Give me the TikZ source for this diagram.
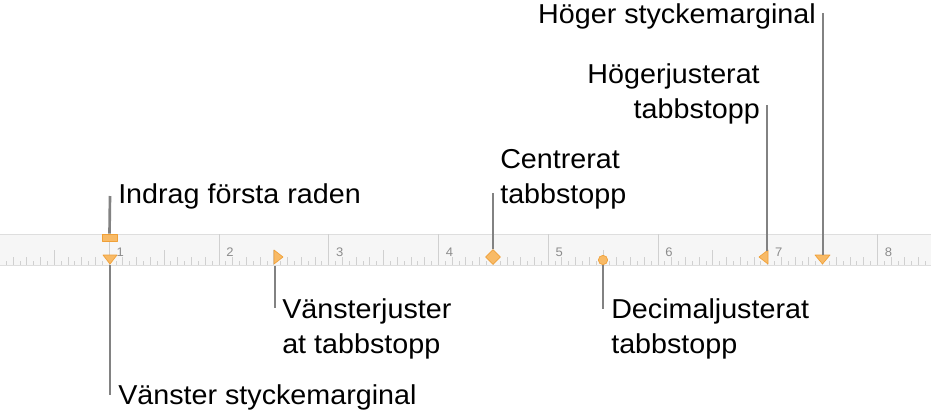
\documentclass[tikz,border=0pt]{standalone}
\usepackage{fontspec}
\setmainfont[FakeStretch=1.05]{Liberation Sans}
\usetikzlibrary{shapes.geometric, calc}
\definecolor{tabfill}{RGB}{248,186,102}
\definecolor{tabedge}{RGB}{240,160,55}
\definecolor{rulerbg}{RGB}{246,246,246}
\definecolor{rulerline}{RGB}{222,222,222}
\definecolor{tickgray}{RGB}{208,208,208}
\definecolor{leadgray}{RGB}{130,130,130}
\definecolor{numgray}{RGB}{140,140,140}

\begin{document}
\begin{tikzpicture}[x=0.75pt, y=-0.75pt,
    tabmark/.style={fill=tabfill, draw=tabedge, line width=0.5pt, line join=round},
    leader/.style={draw=leadgray, line width=2pt},
    callout/.style={font=\fontsize{20.5}{26.3}\selectfont, inner sep=0pt},
    rulernum/.style={font=\fontsize{9.3}{10}\selectfont, text=numgray, inner sep=0pt}]
  \useasboundingbox (0,0) rectangle (931,418);

  % Ruler strip
  \fill[rulerbg] (0,234) rectangle (931,265);
  \draw[rulerline, line width=0.75pt] (0,234) -- (931,234) (0,265) -- (931,265);

  % Ticks, sixteen to the inch
  \foreach \i in {1,...,135} {
    \pgfmathsetmacro{\tx}{\i*109.75/16 - 0.5}
    \pgfmathsetmacro{\ty}{ifthenelse(mod(\i,16)==0, 234,
      ifthenelse(mod(\i,8)==0, 250, ifthenelse(mod(\i,2)==0, 257, 261)))}
    \draw[tickgray, line width=0.75pt] (\tx,\ty) -- (\tx,265);
  }
  \foreach \n in {1,...,8}
    \node[rulernum, anchor=base west] (num\n) at ({\n*109.75 + 6.5}, 256) {\n};

  % Markers on the ruler
  \node[tabmark, rectangle, minimum width=11pt, minimum height=5.25pt,
        inner sep=0pt] (indent) at (109.5,237.5) {};
  \filldraw[tabmark] (103,255) -- (117,255) -- (110,264) -- cycle;
  \coordinate (lmarg) at (110,264.5);
  \filldraw[tabmark] (274,250) -- (283,257) -- (274,264) -- cycle;
  \coordinate (ltab) at (275,265.5);
  \node[tabmark, diamond, minimum size=11.25pt, inner sep=0pt] (ctab) at (493,257) {};
  \node[tabmark, circle, minimum size=7pt, inner sep=0pt] (dtab) at (603,260) {};
  \filldraw[tabmark] (768,250) -- (759,257) -- (768,264) -- cycle;
  \coordinate (rtab) at (767,250.5);
  \filldraw[tabmark] (815,255) -- (830,255) -- (822.5,264) -- cycle;
  \coordinate (rmarg) at (823,255);

  % Callout texts
  \node[callout, anchor=base west] (lblIndent) at (118,203) {Indrag första raden};
  \node[callout, anchor=base west] (lblLmarg) at (118,404) {Vänster styckemarginal};
  \node[callout, anchor=north west, align=left] (lblLtab) at (282,298)
    {Vänsterjuster\\at tabbstopp};
  \node[callout, anchor=north west, align=left] (lblCtab) at (500,149)
    {Centrerat\\tabbstopp};
  \node[callout, anchor=north west, align=left] (lblDtab) at (611,298)
    {Decimaljusterat\\tabbstopp};
  \node[callout, anchor=north east, align=right] (lblRtab) at (760,63)
    {Högerjusterat\\tabbstopp};
  \node[callout, anchor=base east] (lblRmarg) at (816,23) {Höger styckemarginal};

  % Leader ends
  \coordinate (indentEnd) at (110,196);
  \coordinate (lmargEnd) at (110,395);
  \coordinate (ltabEnd) at (275,308);
  \coordinate (ctabEnd) at (493,193);
  \coordinate (dtabEnd) at (603,309);
  \coordinate (rtabEnd) at (767,105);
  \coordinate (rmargEnd) at (823,13);

  % Leaders
  \draw[leader] (indent.north) -- (indentEnd);
  \draw[leader] (lmarg) -- (lmargEnd);
  \draw[leader] (ltab) -- (ltabEnd);
  \draw[leader] (ctab.north) -- (ctabEnd);
  \draw[leader] (dtab.south) -- (dtabEnd);
  \draw[leader] (rtab) -- (rtabEnd);
  \draw[leader] (rmarg) -- (rmargEnd);
\end{tikzpicture}
\end{document}
